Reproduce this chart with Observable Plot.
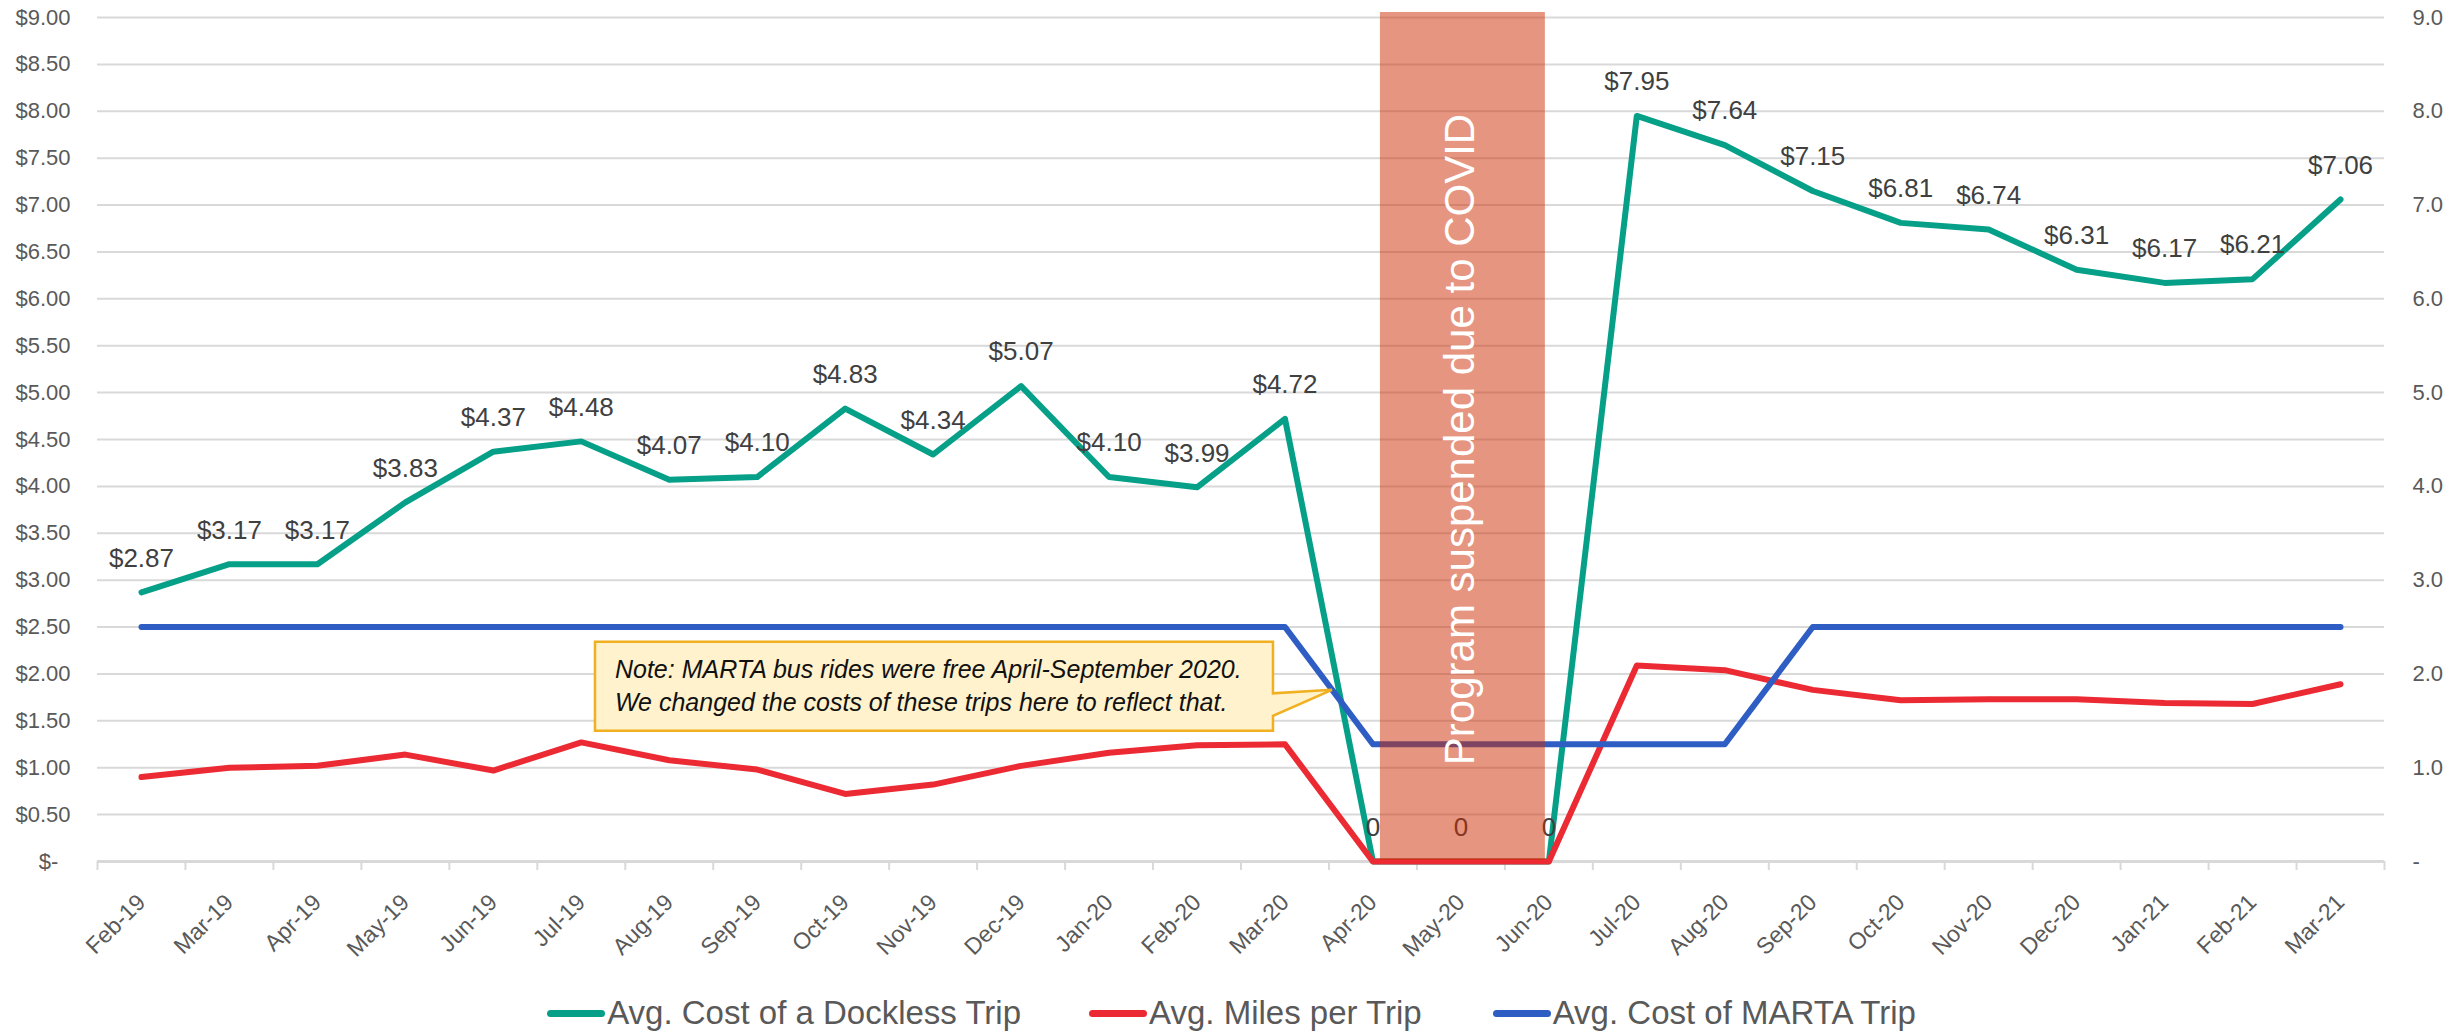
<!DOCTYPE html>
<html><head><meta charset="utf-8">
<script src="https://cdn.jsdelivr.net/npm/d3@7"></script>
<script src="https://cdn.jsdelivr.net/npm/@observablehq/plot@0.6"></script>
<style>
html,body{margin:0;padding:0;background:#fff;}
body{width:2463px;height:1034px;overflow:hidden;font-family:"Liberation Sans",Arial,sans-serif;}
#legend{display:flex;justify-content:center;align-items:center;height:42px;font-size:33px;color:#595959;white-space:nowrap;}
.item{display:flex;align-items:center;}
.sw{display:inline-block;width:58px;height:7px;border-radius:3.5px;margin-right:2px;}
</style></head><body>
<div id="chart"></div>
<div id="legend"></div>
<script>
const months = ["Feb-19","Mar-19","Apr-19","May-19","Jun-19","Jul-19","Aug-19","Sep-19","Oct-19","Nov-19","Dec-19","Jan-20","Feb-20","Mar-20","Apr-20","May-20","Jun-20","Jul-20","Aug-20","Sep-20","Oct-20","Nov-20","Dec-20","Jan-21","Feb-21","Mar-21"];
const docklessCost = [2.87,3.17,3.17,3.83,4.37,4.48,4.07,4.10,4.83,4.34,5.07,4.10,3.99,4.72,0,0,0,7.95,7.64,7.15,6.81,6.74,6.31,6.17,6.21,7.06];
const milesPerTrip = [0.90,1.00,1.02,1.14,0.97,1.27,1.08,0.98,0.72,0.82,1.02,1.16,1.24,1.25,0,0,0,2.09,2.04,1.83,1.72,1.73,1.73,1.69,1.68,1.89];
const martaCost = [2.5,2.5,2.5,2.5,2.5,2.5,2.5,2.5,2.5,2.5,2.5,2.5,2.5,2.5,1.25,1.25,1.25,1.25,1.25,2.5,2.5,2.5,2.5,2.5,2.5,2.5];
const seriesNames = ["Avg. Cost of a Dockless Trip","Avg. Miles per Trip","Avg. Cost of MARTA Trip"];
const seriesColors = ["#06A088","#EC2A33","#2E5DC3"];
const leftTicks = [0,0.5,1,1.5,2,2.5,3,3.5,4,4.5,5,5.5,6,6.5,7,7.5,8,8.5,9];
const rightTicks = [0,1,2,3,4,5,6,7,8,9];
const suspendedStart = "Apr-20", suspendedMid = "May-20", suspendedEnd = "Jun-20";
const suspendedLabel = "Program suspended due to COVID";
const noteLines = ["Note: MARTA bus rides were free April-September 2020.","We changed the costs of these trips here to reflect that."];
const noteFrom = "Mar-20", noteTo = "Apr-20";

(function () {
const rows = months.map((m, i) => ({i, m, dockless: docklessCost[i], miles: milesPerTrip[i], marta: martaCost[i]}));
const yMax = d3.max(leftTicks);
const font = "'Liberation Sans', Arial, sans-serif";
const fmtLeft = d => d === 0 ? "$-\u00a0\u00a0" : "$" + d.toFixed(2);
const fmtRight = d => d === 0 ? "-" : d.toFixed(1);
const fmtLabel = d => d === 0 ? "0" : "$" + d.toFixed(2);
const idx = m => months.indexOf(m);

const lineOpts = {strokeWidth: 6, strokeLinejoin: "round", strokeLinecap: "round"};

const chart = Plot.plot({
  width: 2463,
  height: 992,
  marginLeft: 97,
  marginRight: 79,
  marginTop: 17,
  marginBottom: 131,
  style: {fontFamily: font, background: "#fff", overflow: "visible"},
  x: {domain: [-0.5, months.length - 0.5], label: null},
  y: {domain: [0, yMax], label: null},
  marks: [
    Plot.gridY({ticks: leftTicks.filter(d => d > 0), stroke: "#d9d9d9", strokeOpacity: 1, strokeWidth: 2}),
    Plot.ruleY([0], {stroke: "#d9d9d9", strokeWidth: 3}),
    Plot.axisX({ticks: d3.range(-0.5, months.length, 1), tickSize: 9, tickFormat: () => "", label: null, stroke: "#d9d9d9", strokeWidth: 2}),
    Plot.axisY({anchor: "left", ticks: leftTicks, tickFormat: fmtLeft, label: null, tickSize: 0, tickPadding: 27, fontSize: 22, color: "#595959"}),
    Plot.axisY({anchor: "right", ticks: rightTicks, tickFormat: fmtRight, label: null, tickSize: 0, tickPadding: 28, fontSize: 22, color: "#595959"}),
    Plot.text(rows, {x: "i", frameAnchor: "bottom", text: "m", rotate: -45, textAnchor: "end", lineAnchor: "middle", dy: 37, fontSize: 23, fill: "#595959"}),
    Plot.line(rows, {x: "i", y: "dockless", stroke: seriesColors[0], ...lineOpts}),
    Plot.line(rows, {x: "i", y: "miles", stroke: seriesColors[1], ...lineOpts}),
    Plot.line(rows, {x: "i", y: "marta", stroke: seriesColors[2], ...lineOpts}),
    Plot.text(rows, {x: "i", y: "dockless", text: d => fmtLabel(d.dockless), dy: -34, fontSize: 26, fill: "#404040"}),
    Plot.rect([{start: suspendedStart, end: suspendedEnd}], {x1: d => idx(d.start), x2: d => idx(d.end), y1: 0, y2: yMax, fill: "#CD2B01", fillOpacity: 0.5, insetLeft: 7.5, insetRight: 3.5, insetTop: -5, insetBottom: 1}),
    Plot.text([suspendedLabel], {x: () => idx(suspendedMid), y: () => yMax / 2, text: d => d, rotate: -90, fill: "#fff", fontSize: 42, fontWeight: 300, textAnchor: "middle", lineAnchor: "middle"})
  ]
});

// callout anchored on the MARTA segment between noteFrom and noteTo
const sx = chart.scale("x"), sy = chart.scale("y");
const i0 = idx(noteFrom), i1 = idx(noteTo), t = 0.54;
const tipX = sx.apply(i0 + t * (i1 - i0));
const tipY = sy.apply(martaCost[i0] + t * (martaCost[i1] - martaCost[i0]));
const bRight = tipX - 59, bLeft = bRight - 678, bTop = tipY - 48, bBottom = bTop + 89;
const svg = d3.select(chart);
const g = svg.append("g");
g.append("path")
  .attr("d", `M${bLeft},${bTop}H${bRight}V${tipY + 3.5}L${tipX},${tipY}L${bRight},${tipY + 26}V${bBottom}H${bLeft}Z`)
  .attr("fill", "#FFF2CC").attr("stroke", "#F0B020").attr("stroke-width", 2.5).attr("stroke-linejoin", "miter");
noteLines.forEach((s, k) => {
  g.append("text").attr("x", bLeft + 20).attr("y", bTop + 36 + k * 33.5)
    .attr("text-anchor", "start")
    .attr("font-size", 25).attr("font-style", "italic").attr("fill", "#111")
    .attr("font-family", font).text(s);
});

document.getElementById("chart").appendChild(chart);

const legend = document.getElementById("legend");
const gaps = [68, 71, 0];
seriesNames.forEach((name, k) => {
  const item = document.createElement("div");
  item.className = "item";
  item.style.marginRight = gaps[k] + "px";
  const sw = document.createElement("span");
  sw.className = "sw";
  sw.style.background = seriesColors[k];
  const tx = document.createElement("span");
  tx.textContent = name;
  item.appendChild(sw); item.appendChild(tx);
  legend.appendChild(item);
});
})();
</script>
</body></html>
